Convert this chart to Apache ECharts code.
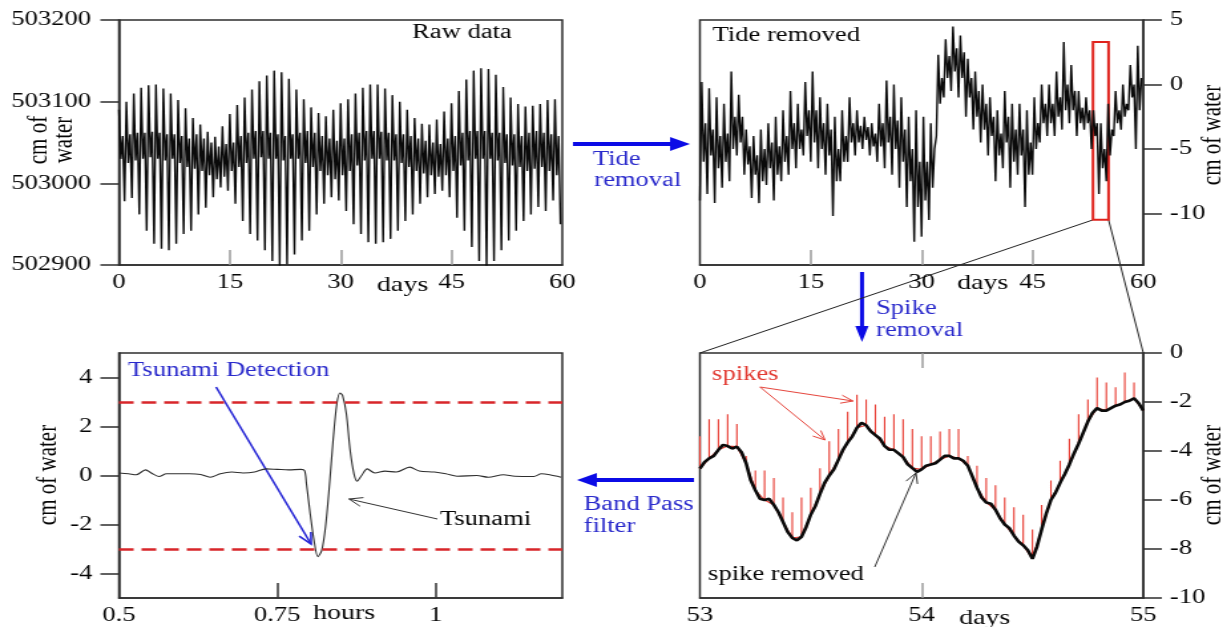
<!DOCTYPE html>
<html>
<head>
<meta charset="utf-8">
<script src="https://cdn.jsdelivr.net/npm/echarts@6/dist/echarts.min.js"></script>
<style>
  html, body { margin: 0; padding: 0; background: #fff; overflow: hidden; }
  #wrap { width: 1231px; height: 627px; overflow: hidden; }
  /* the figure is drawn on a narrower canvas and widened, giving the broad serif lettering */
  #chart { width: 926px; height: 627px; transform: scaleX(1.32937); transform-origin: 0 0; }
</style>
</head>
<body>
<div id="wrap"><div id="chart"></div></div>
<script>
// ---------- Raw bottom-pressure record (cm of water), four samples per day ----------
const rawStep = 0.25;           // days between samples
const rawHigh = [503090,503100,503110,503117,503120,503121,503116,503110,503102,503092,
                 503080,503072,503063,503057,503070,503085,503096,503105,503115,503125,
                 503132,503138,503136,503128,503115,503103,503093,503086,503082,503090,
                 503098,503103,503110,503117,503121,503121,503116,503108,503100,503090,
                 503080,503073,503072,503078,503088,503098,503113,503127,503138,503141,
                 503140,503133,503118,503105,503097,503094,503095,503097,503102,503103];
const rawInnerLow = [503030,503025,503028,503030,503032,503030,503028,503030,503025,503020,
                     503018,503015,503010,503005,503008,503015,503020,503025,503030,503032,
                     503030,503030,503028,503030,503030,503025,503020,503015,503010,503005,
                     503010,503015,503022,503028,503030,503030,503028,503028,503025,503020,
                     503015,503012,503010,503008,503010,503015,503022,503028,503030,503030,
                     503030,503028,503025,503022,503020,503015,503018,503020,503015,503010];
const rawInnerHigh = [503058,503060,503062,503062,503063,503062,503060,503060,503058,503055,
                      503060,503055,503050,503045,503048,503050,503058,503062,503064,503064,
                      503062,503060,503058,503060,503062,503064,503062,503058,503055,503052,
                      503055,503060,503062,503064,503064,503063,503062,503060,503060,503058,
                      503055,503052,503050,503048,503055,503058,503062,503064,503064,503064,
                      503062,503062,503060,503060,503058,503062,503064,503062,503060,503058];
const rawLow = [502978,502982,502962,502942,502926,502920,502918,502926,502938,502942,
                502962,502970,502983,502995,502991,502975,502954,502938,502930,502918,
                502905,502899,502901,502913,502930,502942,502962,502975,502983,502979,
                502966,502950,502938,502928,502926,502928,502932,502942,502954,502962,
                502975,502983,502987,502991,502983,502958,502942,502922,502905,502899,
                502905,502918,502930,502942,502954,502962,502971,502966,502979,502950];

// ---------- Residual after tide removal (cm), four samples per day ----------
const tideStep = 0.25;
const tideLow = [-9.0,-8.5,-9.2,-8.0,-7.5,-5.5,-7.0,-8.8,-9.2,-7.8,
                 -9.0,-7.5,-7.0,-6.5,-5.5,-6.0,-6.5,-7.0,-10.2,-7.5,
                 -6.0,-5.5,-5.0,-5.5,-6.0,-6.5,-7.0,-8.0,-9.5,-12.2,
                 -11.8,-10.5,-4.0,-1.0,-0.5,-1.0,-2.5,-3.5,-4.5,-5.5,
                 -7.5,-6.5,-8.0,-7.0,-9.5,-7.0,-4.5,-4.0,-4.0,-3.5,
                 -3.0,-4.0,-3.5,-5.0,-8.5,-7.5,-4.0,-3.5,-2.0,-5.0];
const tideHigh = [0.2,-0.3,-1.0,-1.5,1.0,-0.8,-3.5,-4.0,-3.5,-3.0,
                  -2.5,-2.0,-0.5,-1.5,0.2,1.0,-1.0,-1.5,-2.5,-2.0,
                  -1.0,-2.0,-2.5,-3.0,-1.5,0.3,0.0,-1.0,-2.5,-2.0,
                  -2.5,-3.0,2.3,3.5,4.5,3.8,2.0,1.0,0.0,-1.0,
                  -2.0,-0.5,-1.5,-1.5,-2.0,-1.0,0.0,0.0,1.0,3.3,
                  1.5,-0.5,-1.0,-2.0,-3.0,-1.5,-0.5,0.0,1.5,3.0];
const tideMidLow = [-6.0,-5.5,-6.5,-6.0,-5.0,-4.5,-6.2,-7.0,-7.5,-6.5,
                    -7.0,-6.0,-5.0,-5.0,-4.0,-4.5,-5.0,-5.5,-7.5,-6.0,
                    -4.5,-4.5,-4.3,-4.8,-4.8,-4.5,-5.0,-6.0,-7.5,-9.5,
                    -9.0,-8.0,-1.5,0.5,1.0,0.5,-1.0,-2.5,-3.5,-4.0,
                    -5.5,-4.5,-6.0,-5.5,-7.0,-5.0,-3.0,-3.0,-2.5,-2.0,
                    -2.0,-3.0,-3.0,-4.0,-6.5,-5.5,-3.0,-2.5,-1.0,-2.0];
const tideMidHigh = [-3.0,-3.5,-4.0,-3.8,-2.5,-2.5,-4.8,-5.5,-5.0,-4.5,
                     -4.8,-4.0,-3.0,-3.5,-2.0,-2.0,-3.0,-3.5,-5.0,-4.0,
                     -3.0,-3.2,-3.3,-3.8,-3.0,-2.5,-2.8,-3.5,-5.0,-6.0,
                     -6.0,-5.0,0.5,2.2,2.8,2.5,0.5,-0.5,-1.5,-2.5,
                     -3.8,-2.5,-3.5,-3.5,-4.5,-3.0,-1.5,-1.5,-1.0,0.0,
                     -0.5,-1.8,-2.0,-3.0,-5.0,-3.5,-2.0,-1.5,0.0,0.5];
const zoomBox = { from: 53.2, to: 55.3, top: 3.3, bottom: -10.5 };   // days / cm

// ---------- Days 53-55: level with spikes removed, and hourly spike tops ----------
const spikeStart = 53;
const spikeStep = 1 / 24;
const cleanLevel = [-4.72,-4.30,-3.95,-3.80,-3.82,-4.50,-5.60,-6.00,-6.20,-6.90,
                    -7.55,-7.50,-6.60,-5.75,-5.00,-4.35,-3.65,-3.05,-2.95,-3.35,
                    -3.80,-3.95,-4.25,-4.70,-4.75,-4.55,-4.35,-4.20,-4.30,-4.60,
                    -5.50,-6.10,-6.40,-7.00,-7.45,-7.85,-8.40,-7.20,-6.00,-5.30,
                    -4.55,-3.70,-2.80,-2.25,-2.35,-2.15,-2.00,-1.85,-2.35];
// half-hour readings between the hourly ones
const cleanHalf = [-4.45,-4.20,-3.75,-3.90,-4.05,-5.20,-5.95,-5.95,-6.50,-7.30,
                   -7.65,-7.10,-6.25,-5.30,-4.75,-3.95,-3.40,-2.85,-3.20,-3.50,
                   -3.95,-4.10,-4.55,-4.85,-4.60,-4.50,-4.20,-4.30,-4.40,-5.05,
                   -5.90,-6.15,-6.75,-7.15,-7.70,-8.05,-7.90,-6.55,-5.70,-4.95,
                   -4.10,-3.25,-2.45,-2.35,-2.25,-2.10,-1.95,-2.05];
const spikeTop = [-3.4,-2.7,-2.7,-2.5,-2.9,-4.2,-4.8,-4.8,-5.1,-5.9,
                  -6.5,-5.9,-5.5,-4.7,-3.6,-3.1,-2.4,-1.7,-1.9,-2.1,
                  -2.6,-2.5,-2.7,-3.1,-3.4,-3.4,-3.2,-3.1,-3.1,-4.2,
                  -4.6,-5.1,-5.4,-5.9,-6.3,-6.6,-7.2,-6.2,-5.2,-4.4,
                  -3.5,-2.5,-1.9,-1.0,-1.2,-1.4,-0.8,-1.2];

// ---------- Band-pass filtered signal (hours, cm) ----------
const bandHours = [0.500,0.515,0.527,0.542,0.551,0.563,0.575,0.593,0.611,0.629,
                   0.644,0.660,0.678,0.696,0.714,0.732,0.750,0.768,0.787,0.793,
                   0.796,0.802,0.808,0.814,0.820,0.826,0.832,0.838,0.844,0.849,
                   0.853,0.859,0.865,0.871,0.876,0.883,0.892,0.904,0.920,0.938,
                   0.959,0.974,0.998,1.016,1.034,1.065,1.083,1.107,1.125,1.155,
                   1.167,1.180,1.198];
const bandLevel = [0.10,0.07,0.03,0.23,0.10,-0.04,0.07,0.07,0.07,0.04,
                   -0.07,0.07,0.14,0.10,0.14,0.27,0.25,0.23,0.25,0.20,
                   -0.34,-1.57,-2.66,-3.31,-3.07,-2.11,-0.48,1.43,2.93,3.37,
                   3.27,2.52,1.02,0.07,-0.23,0.00,0.27,0.10,0.18,0.14,
                   0.34,0.18,0.14,0.07,-0.03,0.00,-0.07,0.03,-0.03,-0.04,
                   0.07,0.03,-0.07];
const threshold = 3;   // detection level, cm

// ---------- Tick labels ----------
const rawTicks = [502900, 503000, 503100, 503200];
const dayTicks = [15, 30, 45];
const tideTicks = [5, 0, -5, -10];
const bandTicks = [-4, -2, 0, 2, 4];
const hourTicks = [0.5, 0.75, 1];
const detailTicks = [54];

// ---------- helpers ----------
const FONT = '"Liberation Serif", "Times New Roman", serif';
const INK = '#050505';
const FRAME = '#2e2e2e';

function interleave(step, columns) {
  const out = [];
  for (let d = 0; d < columns[0].length; d++) {
    columns.forEach((col, i) => out.push([(d * columns.length + i) * step, col[d]]));
  }
  return out;
}

const rawSeries = interleave(rawStep, [rawHigh, rawInnerLow, rawInnerHigh, rawLow]);
const tideSeries = interleave(tideStep, [tideLow, tideHigh, tideMidLow, tideMidHigh]);
const cleanSeries = [];
cleanLevel.forEach((v, k) => {
  cleanSeries.push([spikeStart + k * spikeStep, v]);
  if (k < cleanHalf.length) cleanSeries.push([spikeStart + (k + 0.5) * spikeStep, cleanHalf[k]]);
});
const spikeSeries = [];
spikeTop.forEach((top, k) => {
  const t = spikeStart + k * spikeStep;
  spikeSeries.push([t, cleanLevel[k]], [t, top], [t, cleanLevel[k]]);
});
spikeSeries.push([spikeStart + (cleanLevel.length - 1) * spikeStep, cleanLevel[cleanLevel.length - 1]]);
const bandSeries = bandHours.map((h, i) => [h, bandLevel[i]]);

const labelStyle = { fontFamily: FONT, fontSize: 20, color: INK, formatter: v => String(v) };
const axisLineStyle = { show: true, onZero: false, lineStyle: { color: FRAME, width: 1.5 } };

function grid(left, top) {
  return { left, top, width: 333.5, height: 245, show: true, borderColor: FRAME, borderWidth: 1.5,
           backgroundColor: 'transparent', containLabel: false, outerBoundsMode: 'none' };
}
function innerTicks(values, color) {
  return { inside: true, length: 15, customValues: values, lineStyle: { color, width: 1.5 } };
}

const option = {
  animation: false,
  backgroundColor: '#fff',
  grid: [grid(89.5, 20), grid(526.5, 20), grid(89.5, 353), grid(526.5, 353)],
  xAxis: [
    { gridIndex: 0, type: 'value', min: 0, max: 60, interval: 15, axisLine: axisLineStyle,
      axisTick: innerTicks(dayTicks, '#9a9a9a'),
      axisLabel: Object.assign({ margin: 8 }, labelStyle), splitLine: { show: false } },
    { gridIndex: 1, type: 'value', min: 0, max: 60, interval: 15, axisLine: axisLineStyle,
      axisTick: innerTicks(dayTicks, '#9a9a9a'),
      axisLabel: Object.assign({ margin: 8 }, labelStyle), splitLine: { show: false } },
    { gridIndex: 2, type: 'value', min: 0.5, max: 1.2, axisLine: axisLineStyle,
      axisTick: innerTicks([0.75, 1], '#333'),
      axisLabel: Object.assign({ margin: 8, customValues: hourTicks }, labelStyle), splitLine: { show: false } },
    { gridIndex: 3, type: 'value', min: 53, max: 55, interval: 1, axisLine: axisLineStyle,
      axisTick: innerTicks(detailTicks, '#9a9a9a'),
      axisLabel: Object.assign({ margin: 8 }, labelStyle), splitLine: { show: false } },
    { gridIndex: 3, type: 'value', position: 'top', min: 53, max: 55, interval: 1,
      axisLine: { show: false, onZero: false },
      axisTick: innerTicks(detailTicks, '#9a9a9a'),
      axisLabel: { show: false }, splitLine: { show: false } }
  ],
  yAxis: [
    { gridIndex: 0, type: 'value', min: 502900, max: 503200, interval: 100, axisLine: axisLineStyle,
      axisTick: { length: 14, lineStyle: { color: FRAME, width: 1.5 } },
      axisLabel: Object.assign({ margin: 21, customValues: rawTicks }, labelStyle), splitLine: { show: false } },
    { gridIndex: 1, type: 'value', position: 'right', min: -14, max: 5, axisLine: axisLineStyle,
      axisTick: { length: 14, customValues: tideTicks, lineStyle: { color: FRAME, width: 1.5 } },
      axisLabel: Object.assign({ margin: 20, customValues: tideTicks }, labelStyle), splitLine: { show: false } },
    { gridIndex: 2, type: 'value', min: -5, max: 5, axisLine: axisLineStyle,
      axisTick: { length: 14, customValues: bandTicks, lineStyle: { color: FRAME, width: 1.5 } },
      axisLabel: Object.assign({ margin: 20, customValues: bandTicks }, labelStyle), splitLine: { show: false } },
    { gridIndex: 3, type: 'value', position: 'right', min: -10, max: 0, interval: 2, axisLine: axisLineStyle,
      axisTick: { length: 14, lineStyle: { color: FRAME, width: 1.5 } },
      axisLabel: Object.assign({ margin: 20 }, labelStyle), splitLine: { show: false } }
  ],
  series: [
    { name: 'Raw data', type: 'line', xAxisIndex: 0, yAxisIndex: 0, data: rawSeries,
      showSymbol: false, lineStyle: { color: '#0a0a0a', width: 1.4 } },
    { name: 'Tide removed', type: 'line', xAxisIndex: 1, yAxisIndex: 1, data: tideSeries,
      showSymbol: false, lineStyle: { color: '#0a0a0a', width: 1.4 },
      markArea: { silent: true, itemStyle: { color: 'rgba(0,0,0,0)', borderColor: '#e0221c', borderWidth: 2 },
        data: [[{ coord: [zoomBox.from, zoomBox.top] }, { coord: [zoomBox.to, zoomBox.bottom] }]] } },
    { name: 'Band pass', type: 'line', xAxisIndex: 2, yAxisIndex: 2, data: bandSeries, smooth: 0.3,
      showSymbol: false, lineStyle: { color: '#2e2e2e', width: 1.1 },
      markLine: { silent: true, symbol: 'none', label: { show: false },
        lineStyle: { color: '#d8262a', width: 2.5, type: [11, 6] },
        data: [{ yAxis: threshold }, { yAxis: -threshold }] } },
    { name: 'spikes', type: 'line', xAxisIndex: 3, yAxisIndex: 3, data: spikeSeries,
      showSymbol: false, lineStyle: { color: '#e8392f', width: 1.1 } },
    { name: 'spike removed', type: 'line', xAxisIndex: 3, yAxisIndex: 3, data: cleanSeries,
      showSymbol: false, lineStyle: { color: '#0a0a0a', width: 2.6 }, z: 3 }
  ]
};

const chart = echarts.init(document.getElementById('chart'), null, { renderer: 'canvas' });
chart.setOption(option);

// ---------- annotations ----------
function txt(text, x, y, color, size) {
  return { type: 'text', x, y, silent: true,
    style: { text, fontFamily: FONT, fontSize: size || 20, fill: color || INK, verticalAlign: 'middle' } };
}
function vtxt(text, x, y, size) {
  return { type: 'text', x, y, rotation: Math.PI / 2, silent: true,
    style: { text, fontFamily: FONT, fontSize: size || 21, fill: INK, align: 'center',
             verticalAlign: 'middle', lineHeight: 19 } };
}
function thinArrow(x1, y1, x2, y2, color, w, head) {
  const a = Math.atan2(y2 - y1, x2 - x1), h = head || 11, s = 0.42;
  return [
    { type: 'line', silent: true, shape: { x1, y1, x2, y2 }, style: { stroke: color, lineWidth: w } },
    { type: 'polyline', silent: true,
      shape: { points: [[x2 - h * Math.cos(a - s), y2 - h * Math.sin(a - s)], [x2, y2],
                        [x2 - h * Math.cos(a + s), y2 - h * Math.sin(a + s)]] },
      style: { stroke: color, lineWidth: w, fill: null } }
  ];
}
function blockArrow(x1, y1, x2, y2, color, w, len, half) {
  const a = Math.atan2(y2 - y1, x2 - x1);
  const bx = x2 - len * Math.cos(a), by = y2 - len * Math.sin(a);
  const nx = -Math.sin(a) * half, ny = Math.cos(a) * half;
  return [
    { type: 'line', silent: true, shape: { x1, y1, x2: bx, y2: by }, style: { stroke: color, lineWidth: w } },
    { type: 'polygon', silent: true, shape: { points: [[x2, y2], [bx + nx, by + ny], [bx - nx, by - ny]] },
      style: { fill: color } }
  ];
}

const BLUE = '#0b0be6';
const BLUE_TEXT = '#2a2acc';
const RED_TEXT = '#e23a32';

// zoom connectors from the marked box down to the detail panel
const boxLeft = chart.convertToPixel({ xAxisIndex: 1, yAxisIndex: 1 }, [zoomBox.from, zoomBox.bottom]);
const boxRight = chart.convertToPixel({ xAxisIndex: 1, yAxisIndex: 1 }, [zoomBox.to, zoomBox.bottom]);
const panelLeft = chart.convertToPixel({ xAxisIndex: 3, yAxisIndex: 3 }, [53, 0]);
const panelRight = chart.convertToPixel({ xAxisIndex: 3, yAxisIndex: 3 }, [55, 0]);

const graphics = [
  txt('Raw data', 310, 33),
  txt('Tide removed', 536, 36),
  vtxt('cm of\nwater', 39, 140, 21),
  vtxt('cm of water', 912.5, 135),
  vtxt('cm of water', 36, 475),
  vtxt('cm of water', 912.5, 475),
  txt('days', 283.6, 285, INK, 21),
  txt('days', 720, 283, INK, 21),
  txt('days', 721.4, 618, INK, 21),
  txt('hours', 235.4, 613, INK, 21),
  txt('Tide', 446, 160, BLUE_TEXT),
  txt('removal', 447, 181, BLUE_TEXT),
  txt('Spike', 659, 309, BLUE_TEXT),
  txt('removal', 659, 331, BLUE_TEXT),
  txt('Band Pass', 439, 505, BLUE_TEXT),
  txt('filter', 439, 527, BLUE_TEXT),
  txt('Tsunami Detection', 96.3, 371, BLUE_TEXT),
  txt('Tsunami', 331, 520),
  txt('spikes', 535.6, 375, RED_TEXT),
  txt('spike removed', 532.6, 575),
  ...blockArrow(431, 144, 519, 144, BLUE, 4, 15, 7),
  ...blockArrow(648.4, 272, 648.4, 342, BLUE, 3, 16, 5),
  ...blockArrow(522, 480, 434, 480, BLUE, 4, 15, 7),
  ...thinArrow(162.5, 387, 234, 544, '#2727d6', 1.6, 12),
  ...thinArrow(329, 519, 262.5, 499, '#333', 1, 11),
  ...thinArrow(571.7, 387, 641.7, 401, '#e6463d', 1, 10),
  ...thinArrow(571.7, 387, 620.6, 440, '#e6463d', 1, 10),
  ...thinArrow(658, 567, 689, 473, '#333', 1, 11),
  { type: 'line', silent: true, shape: { x1: boxLeft[0], y1: boxLeft[1], x2: panelLeft[0], y2: panelLeft[1] },
    style: { stroke: '#222', lineWidth: 1 } },
  { type: 'line', silent: true, shape: { x1: boxRight[0], y1: boxRight[1], x2: panelRight[0], y2: panelRight[1] },
    style: { stroke: '#222', lineWidth: 1 } }
];
chart.setOption({ graphic: graphics });
</script>
</body>
</html>
